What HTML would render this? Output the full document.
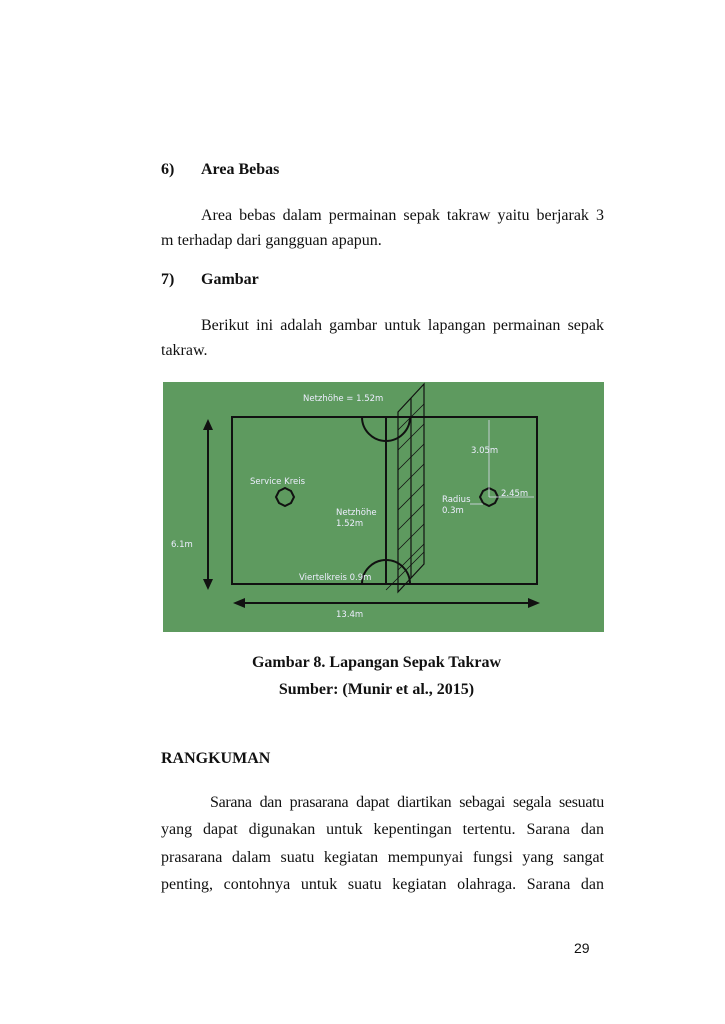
<!DOCTYPE html>
<html><head><meta charset="utf-8"><style>
body{margin:0;width:725px;height:1024px;background:#fff;position:relative;overflow:hidden;font-family:"Liberation Serif",serif;color:#111}
.l{position:absolute;font-size:16px;line-height:18px;white-space:nowrap}
.j{text-align:justify;text-align-last:justify;white-space:normal}
b{font-weight:bold}
svg text{font-family:"DejaVu Sans",sans-serif;font-size:8.5px;fill:#eef}
</style></head><body>
<div class="l" style="left:161px;top:161px"><b>6)</b></div>
<div class="l" style="left:201px;top:161px"><b>Area Bebas</b></div>
<div class="l j" style="left:201px;top:207px;width:403px">Area bebas dalam permainan sepak takraw yaitu berjarak 3</div>
<div class="l" style="left:161px;top:232px">m terhadap dari gangguan apapun.</div>
<div class="l" style="left:161px;top:271px"><b>7)</b></div>
<div class="l" style="left:201px;top:271px"><b>Gambar</b></div>
<div class="l j" style="left:201px;top:317px;width:403px">Berikut ini adalah gambar untuk lapangan permainan sepak</div>
<div class="l" style="left:161px;top:342px">takraw.</div>

<svg style="position:absolute;left:163px;top:382px" width="441" height="250" viewBox="163 382 441 250">
<rect x="163" y="382" width="441" height="250" fill="#5e9a5f"/>
<rect x="232" y="417" width="305" height="167" fill="none" stroke="#111" stroke-width="2"/>
<line x1="386" y1="417" x2="386" y2="584" stroke="#111" stroke-width="2"/>
<path d="M362 417 A24 24 0 0 0 410 417" fill="none" stroke="#111" stroke-width="2"/>
<path d="M362 584 A24 24 0 0 1 410 584" fill="none" stroke="#111" stroke-width="2"/>
<polygon points="398,412 424,384 424,564 398,592" fill="none" stroke="#111" stroke-width="1.2"/>
<line x1="411" y1="398" x2="411" y2="578" stroke="#111" stroke-width="1.2"/>
<g stroke="#111" stroke-width="0.8">
<line x1="398" y1="430" x2="424" y2="404"/><line x1="398" y1="450" x2="424" y2="424"/><line x1="398" y1="470" x2="424" y2="444"/><line x1="398" y1="490" x2="424" y2="464"/><line x1="398" y1="510" x2="424" y2="484"/><line x1="398" y1="530" x2="424" y2="504"/><line x1="398" y1="550" x2="424" y2="524"/><line x1="398" y1="570" x2="424" y2="544"/><line x1="386" y1="590" x2="424" y2="552"/></g>
<polygon points="285,488 291,491 294,497 291,503 285,506 279,503 276,497 279,491" fill="none" stroke="#111" stroke-width="2"/>
<polygon points="489,488 495,491 498,497 495,503 489,506 483,503 480,497 483,491" fill="none" stroke="#111" stroke-width="2"/>
<g stroke="#dde" stroke-width="0.8"><line x1="489" y1="420" x2="489" y2="497"/><line x1="489" y1="497" x2="534" y2="497"/><line x1="470" y1="504" x2="483" y2="504"/></g>
<line x1="208" y1="428" x2="208" y2="580" stroke="#111" stroke-width="2"/>
<polygon points="203,430 213,430 208,419" fill="#111"/><polygon points="203,579 213,579 208,590" fill="#111"/>
<line x1="243" y1="603" x2="530" y2="603" stroke="#111" stroke-width="2"/>
<polygon points="245,598 245,608 233,603" fill="#111"/><polygon points="528,598 528,608 540,603" fill="#111"/>
<text x="303" y="401">Netzhöhe = 1.52m</text>
<text x="471" y="453">3.05m</text>
<text x="250" y="484">Service Kreis</text>
<text x="501" y="496">2.45m</text>
<text x="442" y="502">Radius</text>
<text x="442" y="513">0.3m</text>
<text x="336" y="515">Netzhöhe</text>
<text x="336" y="526">1.52m</text>
<text x="171" y="547">6.1m</text>
<text x="299" y="580">Viertelkreis 0.9m</text>
<text x="336" y="617">13.4m</text>
</svg>

<div class="l" style="left:0;width:753px;text-align:center;top:654px"><b>Gambar 8. Lapangan Sepak Takraw</b></div>
<div class="l" style="left:0;width:753px;text-align:center;top:681px"><b>Sumber: (Munir et al., 2015)</b></div>
<div class="l" style="left:161px;top:750px"><b>RANGKUMAN</b></div>
<div class="l j" style="left:210px;top:794px;width:394px;letter-spacing:-0.3px">Sarana dan prasarana dapat diartikan sebagai segala sesuatu</div>
<div class="l j" style="left:161px;top:821px;width:443px">yang dapat digunakan untuk kepentingan tertentu. Sarana dan</div>
<div class="l j" style="left:161px;top:849px;width:443px">prasarana dalam suatu kegiatan mempunyai fungsi yang sangat</div>
<div class="l j" style="left:161px;top:876px;width:443px">penting, contohnya untuk suatu kegiatan olahraga. Sarana dan</div>
<div class="l" style="left:574px;top:939px;font-family:'Liberation Sans',sans-serif;font-size:14px">29</div>
</body></html>
